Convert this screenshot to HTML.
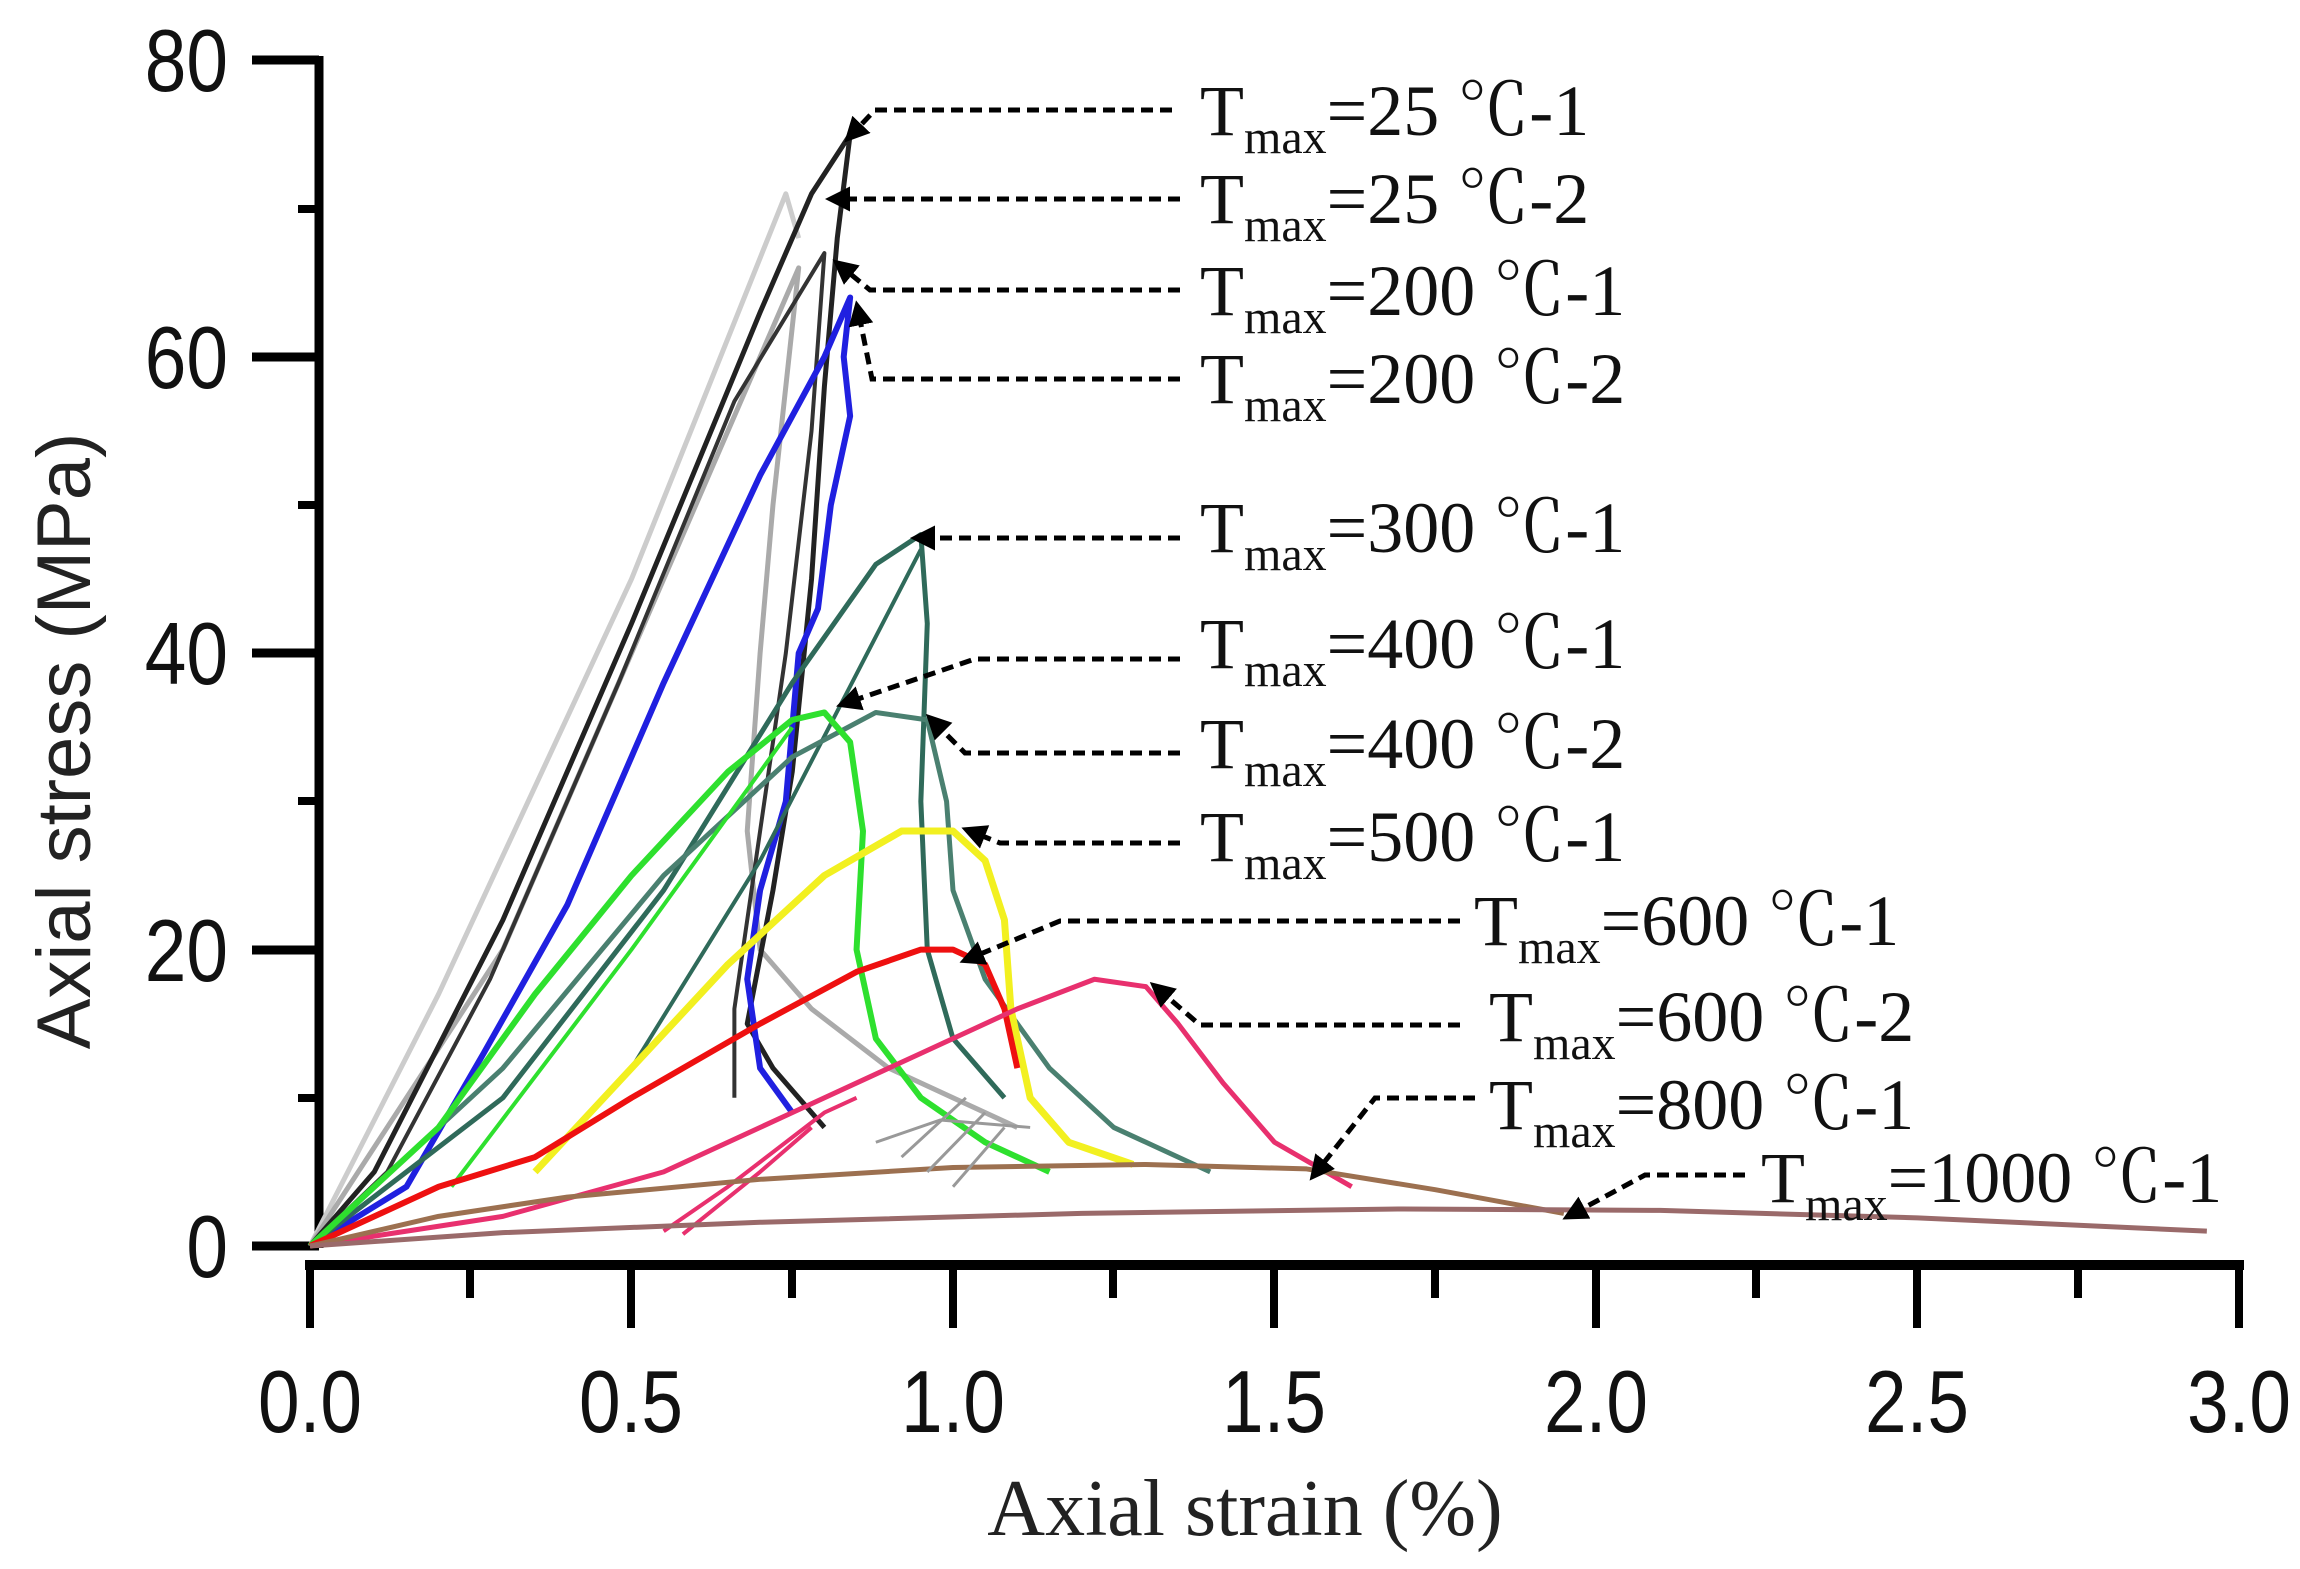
<!DOCTYPE html>
<html><head><meta charset="utf-8"><style>
html,body{margin:0;padding:0;background:#fff;}
svg{display:block;}
.tk{font-family:"Liberation Sans",Arial,sans-serif;font-size:88px;fill:#111;}
.lg{font-family:"Liberation Serif","Noto Serif CJK SC",serif;font-size:72px;fill:#111;}
.sub{font-size:48px;}
</style></head><body>
<svg width="2300" height="1569" viewBox="0 0 2300 1569" xmlns="http://www.w3.org/2000/svg">
<defs>
<marker id="ah" viewBox="0 0 10 10" refX="2" refY="5" markerWidth="5" markerHeight="5" orient="auto-start-reverse"><path d="M0,0 L10,5 L0,10 z" fill="#000"/></marker>
</defs>
<g stroke="#000" fill="none">
<line x1="319" y1="56" x2="319" y2="1248" stroke-width="9"/>
<line x1="252" y1="60" x2="319" y2="60" stroke-width="9"/>
<line x1="252" y1="357" x2="319" y2="357" stroke-width="9"/>
<line x1="252" y1="653" x2="319" y2="653" stroke-width="9"/>
<line x1="252" y1="950" x2="319" y2="950" stroke-width="9"/>
<line x1="252" y1="1246" x2="319" y2="1246" stroke-width="9"/>
<line x1="298" y1="209" x2="319" y2="209" stroke-width="8"/>
<line x1="298" y1="505" x2="319" y2="505" stroke-width="8"/>
<line x1="298" y1="801" x2="319" y2="801" stroke-width="8"/>
<line x1="298" y1="1098" x2="319" y2="1098" stroke-width="8"/>
<line x1="305" y1="1265" x2="2244" y2="1265" stroke-width="10"/>
<g stroke-width="8">
<line x1="310" y1="1265" x2="310" y2="1328"/><line x1="631" y1="1265" x2="631" y2="1328"/>
<line x1="953" y1="1265" x2="953" y2="1328"/><line x1="1274" y1="1265" x2="1274" y2="1328"/>
<line x1="1596" y1="1265" x2="1596" y2="1328"/><line x1="1917" y1="1265" x2="1917" y2="1328"/>
<line x1="2239" y1="1265" x2="2239" y2="1328"/>
<line x1="470" y1="1265" x2="470" y2="1298"/><line x1="792" y1="1265" x2="792" y2="1298"/>
<line x1="1113" y1="1265" x2="1113" y2="1298"/><line x1="1435" y1="1265" x2="1435" y2="1298"/>
<line x1="1756" y1="1265" x2="1756" y2="1298"/><line x1="2078" y1="1265" x2="2078" y2="1298"/>
</g></g>
<g class="tk" text-anchor="end">
<text transform="translate(228,91) scale(0.85,1)">80</text>
<text transform="translate(228,388) scale(0.85,1)">60</text>
<text transform="translate(228,684) scale(0.85,1)">40</text>
<text transform="translate(228,981) scale(0.85,1)">20</text>
<text transform="translate(228,1277) scale(0.85,1)">0</text>
</g>
<g class="tk" text-anchor="middle">
<text transform="translate(310,1432) scale(0.85,1)">0.0</text>
<text transform="translate(631,1432) scale(0.85,1)">0.5</text>
<text transform="translate(953,1432) scale(0.85,1)">1.0</text>
<text transform="translate(1274,1432) scale(0.85,1)">1.5</text>
<text transform="translate(1596,1432) scale(0.85,1)">2.0</text>
<text transform="translate(1917,1432) scale(0.85,1)">2.5</text>
<text transform="translate(2239,1432) scale(0.85,1)">3.0</text>
</g>
<text transform="translate(90,741) rotate(-90)" text-anchor="middle" style="font-family:'Liberation Sans',Arial,sans-serif;font-size:76px;fill:#222">Axial stress (MPa)</text>
<text x="1245" y="1535" text-anchor="middle" style="font-family:'Liberation Serif',serif;font-size:80px;fill:#222">Axial strain (%)</text>

<g transform="translate(310,1246) scale(643,-14.82)" fill="none" stroke-linejoin="round">
<polyline vector-effect="non-scaling-stroke" stroke="#ccc" stroke-width="5" points="0,0 0.2,17 0.5,45 0.74,71 0.76,68"/>
<polyline vector-effect="non-scaling-stroke" stroke="#aaa" stroke-width="5" points="0,0 0.3,20 0.55,45 0.76,66 0.72,50 0.7,40 0.68,28 0.7,20 0.78,16 0.9,12 1.0,10 1.1,8"/>
<polyline vector-effect="non-scaling-stroke" stroke="#222" stroke-width="5" points="0,0 0.1,5 0.3,22 0.5,42 0.7,63 0.78,71 0.84,75 0.82,68 0.8,58 0.78,45 0.75,32 0.72,24 0.68,15 0.72,12 0.8,8"/>
<polyline vector-effect="non-scaling-stroke" stroke="#333" stroke-width="4" points="0,0 0.12,5 0.28,18 0.48,38 0.66,57 0.8,67 0.78,55 0.74,40 0.7,28 0.66,16 0.66,10"/>
<polyline vector-effect="non-scaling-stroke" stroke="#2020e0" stroke-width="6" points="0,0 0.15,4 0.27,13 0.4,23 0.55,38 0.7,52 0.8,60 0.84,64 0.83,60 0.84,56 0.81,50 0.79,43 0.76,40 0.74,30 0.7,24 0.68,18 0.7,12 0.75,9"/>
<polyline vector-effect="non-scaling-stroke" stroke="#2f6a5a" stroke-width="5" points="0,0 0.3,10 0.55,24 0.75,38 0.88,46 0.95,48 0.96,42 0.95,30 0.96,20 1.0,14 1.08,10"/>
<polyline vector-effect="non-scaling-stroke" stroke="#2f6a5a" stroke-width="4" points="0.5,12 0.7,26 0.95,47"/>
<polyline vector-effect="non-scaling-stroke" stroke="#4a8070" stroke-width="5" points="0,0 0.3,12 0.55,25 0.75,33 0.88,36 0.96,35.5 0.99,30 1.0,24 1.05,18 1.15,12 1.25,8 1.4,5"/>
<polyline vector-effect="non-scaling-stroke" stroke="#2ee02e" stroke-width="6" points="0,0 0.2,8 0.35,17 0.5,25 0.65,32 0.75,35.5 0.8,36 0.84,34 0.86,28 0.85,20 0.88,14 0.95,10 1.05,7 1.15,5"/>
<polyline vector-effect="non-scaling-stroke" stroke="#2ee02e" stroke-width="4" points="0.22,4 0.5,20 0.75,35"/>
<polyline vector-effect="non-scaling-stroke" stroke="#f2f020" stroke-width="7" points="0.35,5 0.5,12 0.65,19 0.8,25 0.92,28 1.0,28 1.05,26 1.08,22 1.09,16 1.12,10 1.18,7 1.28,5.5"/>
<polyline vector-effect="non-scaling-stroke" stroke="#ee1010" stroke-width="6" points="0,0 0.2,4 0.35,6 0.5,10 0.7,15 0.85,18.5 0.95,20 1.0,20 1.05,19 1.08,16 1.1,12"/>
<polyline vector-effect="non-scaling-stroke" stroke="#e8306e" stroke-width="5" points="0,0 0.3,2 0.55,5 0.75,9 0.95,13 1.1,16 1.22,18 1.3,17.5 1.35,15 1.42,11 1.5,7 1.62,4"/>
<polyline vector-effect="non-scaling-stroke" stroke="#e8306e" stroke-width="4" points="0.55,1 0.65,4 0.8,9 0.85,10"/>
<polyline vector-effect="non-scaling-stroke" stroke="#e8306e" stroke-width="4" points="0.58,0.8 0.7,5 0.78,8"/>
<polyline vector-effect="non-scaling-stroke" stroke="#9c7050" stroke-width="5" points="0,0 0.2,2 0.4,3.3 0.7,4.5 1.0,5.3 1.3,5.5 1.55,5.2 1.75,3.8 1.95,2.2"/>
<polyline vector-effect="non-scaling-stroke" stroke="#9a6a6a" stroke-width="5" points="0,0 0.3,0.9 0.7,1.6 1.2,2.2 1.7,2.5 2.1,2.4 2.5,1.9 2.95,1.0"/>
<g stroke="#999" stroke-width="3">
<polyline vector-effect="non-scaling-stroke" points="0.92,6 1.02,10"/><polyline vector-effect="non-scaling-stroke" points="0.96,5 1.05,9"/>
<polyline vector-effect="non-scaling-stroke" points="1.0,4 1.08,8"/><polyline vector-effect="non-scaling-stroke" points="0.88,7 0.98,8.5 1.12,8"/>
</g>
</g>

<g stroke="#000" stroke-width="5" fill="none" stroke-dasharray="12 7">
<polyline points="1172,110 875,110 858,128" marker-end="url(#ah)"/>
<polyline points="1180,199 845,199" marker-end="url(#ah)"/>
<polyline points="1180,290 870,290 848,272" marker-end="url(#ah)"/>
<polyline points="1180,379 872,379 860,320" marker-end="url(#ah)"/>
<polyline points="1180,538 930,538" marker-end="url(#ah)"/>
<polyline points="1180,659 975,659 855,700" marker-end="url(#ah)"/>
<polyline points="1180,753 965,753 940,728" marker-end="url(#ah)"/>
<polyline points="1180,843 1000,843 980,835" marker-end="url(#ah)"/>
<polyline points="1460,921 1060,921 978,955" marker-end="url(#ah)"/>
<polyline points="1460,1025 1200,1025 1165,995" marker-end="url(#ah)"/>
<polyline points="1475,1098 1375,1098 1322,1165" marker-end="url(#ah)"/>
<polyline points="1745,1175 1645,1175 1580,1210" marker-end="url(#ah)"/>
</g>

<g class="lg">
<text x="1200" y="135">T<tspan class="sub" dy="18">max</tspan><tspan dy="-18">=25 ℃-1</tspan></text>
<text x="1200" y="223">T<tspan class="sub" dy="18">max</tspan><tspan dy="-18">=25 ℃-2</tspan></text>
<text x="1200" y="315">T<tspan class="sub" dy="18">max</tspan><tspan dy="-18">=200 ℃-1</tspan></text>
<text x="1200" y="403">T<tspan class="sub" dy="18">max</tspan><tspan dy="-18">=200 ℃-2</tspan></text>
<text x="1200" y="552">T<tspan class="sub" dy="18">max</tspan><tspan dy="-18">=300 ℃-1</tspan></text>
<text x="1200" y="668">T<tspan class="sub" dy="18">max</tspan><tspan dy="-18">=400 ℃-1</tspan></text>
<text x="1200" y="768">T<tspan class="sub" dy="18">max</tspan><tspan dy="-18">=400 ℃-2</tspan></text>
<text x="1200" y="861">T<tspan class="sub" dy="18">max</tspan><tspan dy="-18">=500 ℃-1</tspan></text>
<text x="1474" y="945">T<tspan class="sub" dy="18">max</tspan><tspan dy="-18">=600 ℃-1</tspan></text>
<text x="1489" y="1041">T<tspan class="sub" dy="18">max</tspan><tspan dy="-18">=600 ℃-2</tspan></text>
<text x="1489" y="1129">T<tspan class="sub" dy="18">max</tspan><tspan dy="-18">=800 ℃-1</tspan></text>
<text x="1761" y="1202">T<tspan class="sub" dy="18">max</tspan><tspan dy="-18">=1000 ℃-1</tspan></text>
</g>
</svg>
</body></html>
